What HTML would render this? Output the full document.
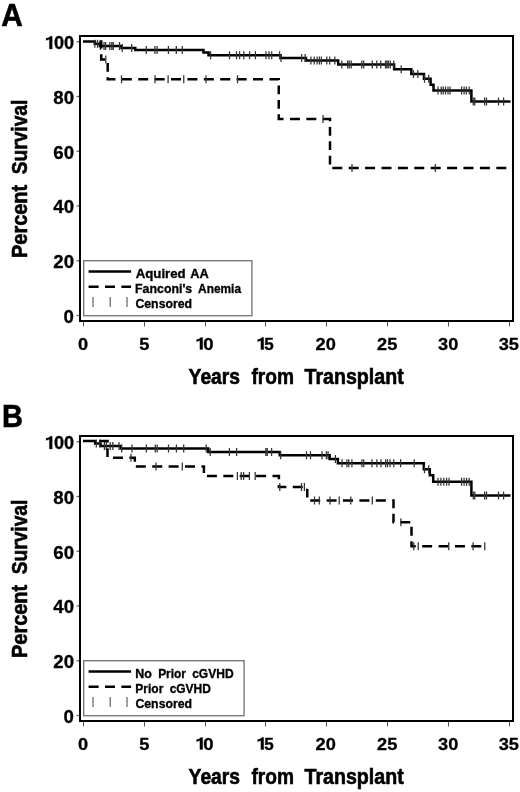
<!DOCTYPE html>
<html><head><meta charset="utf-8"><style>
html,body{margin:0;padding:0;background:#fff;}
svg{display:block;filter:blur(0.35px);}
text{font-family:"Liberation Sans",sans-serif;font-weight:bold;fill:#000;}
.lab{font-size:31px;stroke:#000;stroke-width:0.6px;}
.title{font-size:21.5px;stroke:#000;stroke-width:0.6px;}
.tick{font-size:17.6px;stroke:#000;stroke-width:0.3px;}
.xtick{font-size:17.2px;stroke:#000;stroke-width:0.3px;}
.leg{font-size:13.6px;stroke:#000;stroke-width:0.35px;}
</style></head><body>
<svg width="520" height="792" viewBox="0 0 520 792">
<rect width="520" height="792" fill="#fff"/>
<rect x="80" y="36" width="433" height="285" fill="none" stroke="#000" stroke-width="2"/>
<path d="M76.5,315.50H79" stroke="#666" stroke-width="1.3"/>
<path d="M76.5,260.75H79" stroke="#666" stroke-width="1.3"/>
<path d="M76.5,206.00H79" stroke="#666" stroke-width="1.3"/>
<path d="M76.5,151.25H79" stroke="#666" stroke-width="1.3"/>
<path d="M76.5,96.50H79" stroke="#666" stroke-width="1.3"/>
<path d="M76.5,41.75H79" stroke="#666" stroke-width="1.3"/>
<path d="M83.50,322V326.5" stroke="#555" stroke-width="1"/>
<path d="M144.50,322V326.5" stroke="#555" stroke-width="1"/>
<path d="M205.50,322V326.5" stroke="#555" stroke-width="1"/>
<path d="M265.50,322V326.5" stroke="#555" stroke-width="1"/>
<path d="M326.50,322V326.5" stroke="#555" stroke-width="1"/>
<path d="M387.50,322V326.5" stroke="#555" stroke-width="1"/>
<path d="M448.50,322V326.5" stroke="#555" stroke-width="1"/>
<path d="M509.50,322V326.5" stroke="#555" stroke-width="1"/>
<rect x="83.7" y="260.7" width="168.20" height="55" fill="none" stroke="#7a7a7a" stroke-width="1.4"/>
<path d="M88.6,271.4H131.1" stroke="#000" stroke-width="2.5"/>
<path d="M88.6,286.7H131.1" stroke="#000" stroke-width="2.5" stroke-dasharray="10 6.4"/>
<path d="M93,297V307M110.25,297V307M127,297V307" stroke="#777" stroke-width="1.4"/>
<path d="M83,41.40H94.8V43.80H99.8V45.90H121.5V48.00H135.3V49.90H203.5V52.60H208.5V55.30H280.6V57.90H306V60.60H338.2V64.50H394.1V69.20H411.3V73.90H424V78.75H430.6V84.80H433.5V90.40H471.4V101.50H510.5" fill="none" stroke="#000" stroke-width="2.5"/>
<path d="M94.8,39.80V47.80M97.5,39.80V47.80M100.4,41.90V49.90M104,41.90V49.90M105.6,41.90V49.90M109.8,41.90V49.90M111.8,41.90V49.90M113.3,41.90V49.90M119.5,41.90V49.90M122.2,44.00V52.00M131.7,44.00V52.00M146.25,45.90V53.90M154.9,45.90V53.90M157.1,45.90V53.90M168.4,45.90V53.90M176.3,45.90V53.90M182.3,45.90V53.90M210.6,51.30V59.30M229.5,51.30V59.30M236.5,51.30V59.30M239.6,51.30V59.30M243.8,51.30V59.30M249.6,51.30V59.30M255.4,51.30V59.30M266,51.30V59.30M269,51.30V59.30M271.7,51.30V59.30M279.6,51.30V59.30M281,53.90V61.90M301.7,53.90V61.90M305.1,53.90V61.90M310.9,56.60V64.60M314.2,56.60V64.60M317.1,56.60V64.60M319.4,56.60V64.60M321.4,56.60V64.60M326.8,56.60V64.60M329.7,56.60V64.60M334.8,56.60V64.60M341.8,60.50V68.50M347.6,60.50V68.50M349.25,60.50V68.50M351.2,60.50V68.50M361.75,60.50V68.50M363.7,60.50V68.50M372.3,60.50V68.50M376.8,60.50V68.50M380.7,60.50V68.50M385.5,60.50V68.50M386.9,60.50V68.50M388.4,60.50V68.50M390.3,60.50V68.50M393.7,60.50V68.50M401.2,65.20V73.20M413.5,69.90V77.90M417.8,69.90V77.90M424.5,74.75V82.75M428.7,74.75V82.75M438,86.40V94.40M441.2,86.40V94.40M443.2,86.40V94.40M445.5,86.40V94.40M448,86.40V94.40M450,86.40V94.40M461.6,86.40V94.40M464.1,86.40V94.40M466.3,86.40V94.40M469.2,86.40V94.40M473.3,97.50V105.50M474.8,97.50V105.50M484.6,97.50V105.50M486.5,97.50V105.50M498.5,97.50V105.50M503.6,97.50V105.50" stroke="#333" stroke-width="1.25"/>
<path d="M99.40,41.40L101.20,41.40L101.20,48.60M101.20,54.22L101.20,59.60L105.07,59.60M107.70,62.91L107.70,71.69M107.70,77.31L107.70,79.30L115.43,79.30M121.83,79.30L131.83,79.30M138.23,79.30L148.23,79.30M154.63,79.30L164.63,79.30M171.03,79.30L181.03,79.30M187.43,79.30L197.43,79.30M203.83,79.30L213.83,79.30M220.23,79.30L230.23,79.30M236.63,79.30L246.63,79.30M253.03,79.30L263.03,79.30M269.43,79.30L278.75,79.30L278.75,79.90M278.75,85.52L278.75,94.30M278.75,99.92L278.75,108.70M278.75,114.32L278.75,118.90L283.53,118.90M289.93,118.90L299.93,118.90M306.33,118.90L316.33,118.90M322.73,118.90L330.00,118.90L330.00,121.30M330.00,126.92L330.00,135.70M330.00,141.32L330.00,150.10M330.00,155.72L330.00,164.50M332.29,168.10L342.29,168.10M348.69,168.10L358.69,168.10M365.09,168.10L375.09,168.10M381.49,168.10L391.49,168.10M397.89,168.10L407.89,168.10M414.29,168.10L424.29,168.10M430.69,168.10L440.69,168.10M447.09,168.10L457.09,168.10M463.49,168.10L473.49,168.10M479.89,168.10L489.89,168.10M496.29,168.10L506.29,168.10" fill="none" stroke="#000" stroke-width="2.5"/>
<path d="M105.8,55.60V63.60M121.5,75.30V83.30M155,75.30V83.30M168.1,75.30V83.30M183.75,75.30V83.30M206,75.30V83.30M237.5,75.30V83.30M323,114.90V122.90M352,164.10V172.10M435.4,164.10V172.10" stroke="#333" stroke-width="1.25"/>
<rect x="80" y="436" width="433" height="285" fill="none" stroke="#000" stroke-width="2"/>
<path d="M76.5,715.50H79" stroke="#666" stroke-width="1.3"/>
<path d="M76.5,660.75H79" stroke="#666" stroke-width="1.3"/>
<path d="M76.5,606.00H79" stroke="#666" stroke-width="1.3"/>
<path d="M76.5,551.25H79" stroke="#666" stroke-width="1.3"/>
<path d="M76.5,496.50H79" stroke="#666" stroke-width="1.3"/>
<path d="M76.5,441.75H79" stroke="#666" stroke-width="1.3"/>
<path d="M83.50,722V726.5" stroke="#555" stroke-width="1"/>
<path d="M144.50,722V726.5" stroke="#555" stroke-width="1"/>
<path d="M205.50,722V726.5" stroke="#555" stroke-width="1"/>
<path d="M265.50,722V726.5" stroke="#555" stroke-width="1"/>
<path d="M326.50,722V726.5" stroke="#555" stroke-width="1"/>
<path d="M387.50,722V726.5" stroke="#555" stroke-width="1"/>
<path d="M448.50,722V726.5" stroke="#555" stroke-width="1"/>
<path d="M509.50,722V726.5" stroke="#555" stroke-width="1"/>
<rect x="83.7" y="660.7" width="160.40" height="55" fill="none" stroke="#7a7a7a" stroke-width="1.4"/>
<path d="M88.6,671.4H131.1" stroke="#000" stroke-width="2.5"/>
<path d="M88.6,686.7H131.1" stroke="#000" stroke-width="2.5" stroke-dasharray="10 6.4"/>
<path d="M93,697V707M110.25,697V707M127,697V707" stroke="#777" stroke-width="1.4"/>
<path d="M83,440.90H95.2V443.60H100.5V445.90H120.8V448.40H208.3V452.00H279.75V455.30H329.6V458.90H337.9V463.30H423.8V469.20H429.8V475.20H433.2V481.80H471.4V495.60H510.5" fill="none" stroke="#000" stroke-width="2.5"/>
<path d="M96.3,439.60V447.60M99.8,439.60V447.60M104.4,441.90V449.90M106.3,441.90V449.90M110.2,441.90V449.90M112.8,441.90V449.90M119,441.90V449.90M121.7,444.40V452.40M132,444.40V452.40M146.4,444.40V452.40M155.3,444.40V452.40M157.2,444.40V452.40M168.5,444.40V452.40M176.4,444.40V452.40M183.7,444.40V452.40M206.2,444.40V452.40M210.2,448.00V456.00M229.4,448.00V456.00M236.6,448.00V456.00M265.8,448.00V456.00M267.25,448.00V456.00M271.6,448.00V456.00M280.7,451.30V459.30M306.5,451.30V459.30M310.5,451.30V459.30M322,451.30V459.30M326.4,451.30V459.30M328.1,451.30V459.30M335.4,454.90V462.90M342,459.30V467.30M346.9,459.30V467.30M348.75,459.30V467.30M351.9,459.30V467.30M361.9,459.30V467.30M363.75,459.30V467.30M371.9,459.30V467.30M376.9,459.30V467.30M381,459.30V467.30M385.6,459.30V467.30M387.5,459.30V467.30M390,459.30V467.30M393.75,459.30V467.30M400.6,459.30V467.30M414.2,459.30V467.30M424.5,465.20V473.20M428.7,465.20V473.20M438,477.80V485.80M440.9,477.80V485.80M443.75,477.80V485.80M446.6,477.80V485.80M449,477.80V485.80M461.6,477.80V485.80M464.1,477.80V485.80M466.6,477.80V485.80M469.2,477.80V485.80M473.3,491.60V499.60M474.8,491.60V499.60M484.6,491.60V499.60M486.5,491.60V499.60M498.5,491.60V499.60M503.6,491.60V499.60" stroke="#333" stroke-width="1.25"/>
<path d="M99.40,440.90L107.50,440.90L107.50,442.57M107.50,448.19L107.50,456.97M112.95,457.80L122.95,457.80M129.35,457.80L134.80,457.80L134.80,461.80M135.84,466.50L145.84,466.50M152.24,466.50L162.24,466.50M168.64,466.50L178.64,466.50M185.04,466.50L195.04,466.50M201.44,466.50L203.90,466.50L203.90,473.12M206.91,476.10L216.91,476.10M223.31,476.10L233.31,476.10M239.71,476.10L249.71,476.10M256.11,476.10L266.11,476.10M272.51,476.10L278.90,476.10L278.90,479.27M278.90,484.89L278.90,487.10L286.38,487.10M292.78,487.10L302.78,487.10M307.25,488.79L307.25,497.57M310.20,500.60L320.20,500.60M326.60,500.60L336.60,500.60M343.00,500.60L353.00,500.60M359.40,500.60L369.40,500.60M375.80,500.60L385.80,500.60M392.20,500.60L393.50,500.60L393.50,508.24M393.50,513.86L393.50,522.30L393.89,522.30M400.29,522.30L410.29,522.30M411.50,526.86L411.50,535.64M411.50,541.26L411.50,546.30L415.75,546.30M422.15,546.30L432.15,546.30M438.55,546.30L448.55,546.30M454.95,546.30L464.95,546.30M471.35,546.30L481.35,546.30" fill="none" stroke="#000" stroke-width="2.5"/>
<path d="M131,453.80V461.80M156,462.50V470.50M182.3,462.50V470.50M237.4,472.10V480.10M241.2,472.10V480.10M243.6,472.10V480.10M249.4,472.10V480.10M255.2,472.10V480.10M279.8,483.10V491.10M301.5,483.10V491.10M304.4,483.10V491.10M314.5,496.60V504.60M319.3,496.60V504.60M330,496.60V504.60M339.2,496.60V504.60M350.8,496.60V504.60M372.3,496.60V504.60M400.9,518.30V526.30M413.8,542.30V550.30M418.2,542.30V550.30M448.75,542.30V550.30M473.1,542.30V550.30M484.75,542.30V550.30" stroke="#333" stroke-width="1.25"/>
<text class="lab" transform="translate(1.34,25.80) scale(0.9618,1)">A</text>
<text class="title" transform="translate(188.61,384.20) scale(0.8967,1)">Years</text>
<text class="title" transform="translate(251.49,384.20) scale(0.8901,1)">from</text>
<text class="title" transform="translate(304.50,384.20) scale(0.9126,1)">Transplant</text>
<text class="title" transform="translate(27.20,257.94) rotate(-90) scale(0.9273,1)">Percent</text>
<text class="title" transform="translate(27.20,174.32) rotate(-90) scale(0.8925,1)">Survival</text>
<text class="leg" transform="translate(135.63,277.80) scale(0.9752,1)">Aquired</text>
<text class="leg" transform="translate(190.18,277.80) scale(0.9445,1)">AA</text>
<text class="leg" transform="translate(135.07,292.90) scale(0.9093,1)">Fanconi's</text>
<text class="leg" transform="translate(198.09,292.90) scale(0.8741,1)">Anemia</text>
<text class="leg" transform="translate(135.41,307.80) scale(0.9047,1)">Censored</text>
<text class="lab" transform="translate(2.07,426.50) scale(0.9333,1)">B</text>
<text class="title" transform="translate(188.61,784.20) scale(0.8967,1)">Years</text>
<text class="title" transform="translate(251.49,784.20) scale(0.8901,1)">from</text>
<text class="title" transform="translate(304.50,784.20) scale(0.9126,1)">Transplant</text>
<text class="title" transform="translate(27.20,657.94) rotate(-90) scale(0.9273,1)">Percent</text>
<text class="title" transform="translate(27.20,574.32) rotate(-90) scale(0.8925,1)">Survival</text>
<text class="leg" transform="translate(135.31,677.60) scale(0.9176,1)">No</text>
<text class="leg" transform="translate(158.14,677.60) scale(0.8774,1)">Prior</text>
<text class="leg" transform="translate(192.17,677.60) scale(0.8846,1)">cGVHD</text>
<text class="leg" transform="translate(135.34,692.60) scale(0.8839,1)">Prior</text>
<text class="leg" transform="translate(169.67,692.60) scale(0.8802,1)">cGVHD</text>
<text class="leg" transform="translate(135.41,707.60) scale(0.9047,1)">Censored</text>
<text class="tick" transform="translate(53.99,48.95) scale(1.0270,1)">00</text>
<text class="tick" transform="translate(53.26,103.70) scale(1.0600,1)">80</text>
<text class="tick" transform="translate(53.26,158.50) scale(1.0600,1)">60</text>
<text class="tick" transform="translate(53.26,213.20) scale(1.0600,1)">40</text>
<text class="tick" transform="translate(53.26,267.95) scale(1.0600,1)">20</text>
<text class="tick" transform="translate(63.60,322.70) scale(1.0600,1)">0</text>
<text class="xtick" transform="translate(78.06,349.60) scale(1.0600,1)">0</text>
<text class="xtick" transform="translate(139.15,349.60) scale(1.0600,1)">5</text>
<text class="xtick" transform="translate(315.61,349.60) scale(1.0600,1)">20</text>
<text class="xtick" transform="translate(377.05,349.60) scale(1.0600,1)">25</text>
<text class="xtick" transform="translate(438.00,349.60) scale(1.0600,1)">30</text>
<text class="xtick" transform="translate(498.63,349.60) scale(1.0600,1)">35</text>
<text class="xtick" transform="translate(203.16,349.60) scale(1.0824,1)">0</text>
<text class="xtick" transform="translate(264.23,349.60) scale(0.9915,1)">5</text>
<text class="tick" transform="translate(53.99,448.95) scale(1.0270,1)">00</text>
<text class="tick" transform="translate(53.26,503.70) scale(1.0600,1)">80</text>
<text class="tick" transform="translate(53.26,558.50) scale(1.0600,1)">60</text>
<text class="tick" transform="translate(53.26,613.20) scale(1.0600,1)">40</text>
<text class="tick" transform="translate(53.26,667.95) scale(1.0600,1)">20</text>
<text class="tick" transform="translate(63.60,722.70) scale(1.0600,1)">0</text>
<text class="xtick" transform="translate(78.06,749.60) scale(1.0600,1)">0</text>
<text class="xtick" transform="translate(139.15,749.60) scale(1.0600,1)">5</text>
<text class="xtick" transform="translate(315.61,749.60) scale(1.0600,1)">20</text>
<text class="xtick" transform="translate(377.05,749.60) scale(1.0600,1)">25</text>
<text class="xtick" transform="translate(438.00,749.60) scale(1.0600,1)">30</text>
<text class="xtick" transform="translate(498.63,749.60) scale(1.0600,1)">35</text>
<text class="xtick" transform="translate(203.16,749.60) scale(1.0824,1)">0</text>
<text class="xtick" transform="translate(264.23,749.60) scale(0.9915,1)">5</text>
<path d="M49.40,48.90H52.20V36.20H50.30C49.60,37.50 47.80,38.10 46.10,38.30V40.30C47.50,40.10 48.60,39.80 49.40,39.30ZM199.90,349.60H202.70V337.50H200.80C200.10,338.80 198.30,339.40 196.60,339.60V341.60C198.00,341.40 199.10,341.10 199.90,340.60ZM260.90,349.60H263.70V337.50H261.80C261.10,338.80 259.30,339.40 257.60,339.60V341.60C259.00,341.40 260.10,341.10 260.90,340.60ZM49.40,448.90H52.20V436.20H50.30C49.60,437.50 47.80,438.10 46.10,438.30V440.30C47.50,440.10 48.60,439.80 49.40,439.30ZM199.90,749.60H202.70V737.50H200.80C200.10,738.80 198.30,739.40 196.60,739.60V741.60C198.00,741.40 199.10,741.10 199.90,740.60ZM260.90,749.60H263.70V737.50H261.80C261.10,738.80 259.30,739.40 257.60,739.60V741.60C259.00,741.40 260.10,741.10 260.90,740.60Z" fill="#000" stroke="#000" stroke-width="0.3"/>
</svg>
</body></html>
